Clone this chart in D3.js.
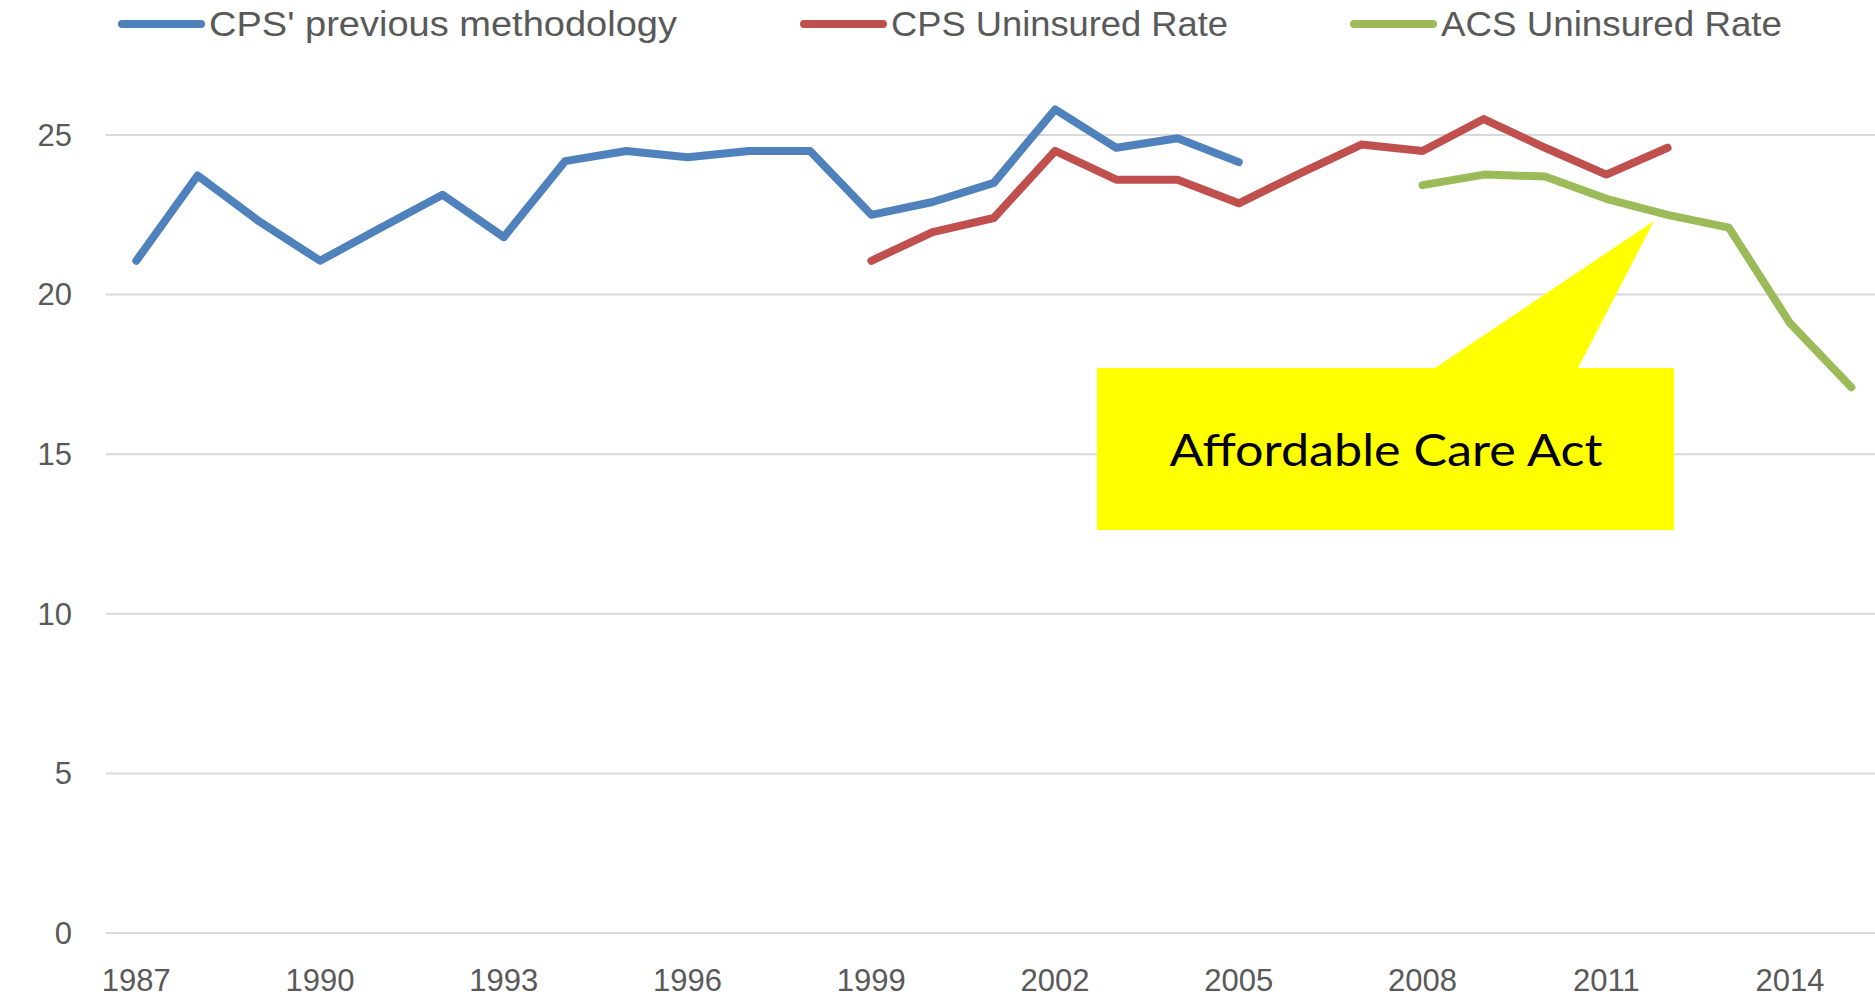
<!DOCTYPE html>
<html>
<head>
    <meta charset="UTF-8">
    <script src="https://d3js.org/d3.v7.min.js"></script>
    <style>
        body { margin: 0; background: #fff; }
        text { font-family: "Liberation Sans", Arial, sans-serif; }
    </style>
</head>
<body>
    <svg id="chart" width="1875" height="997"></svg>
    <script>
        // years on the category axis
        const years = d3.range(1987, 2016);
        const tickYears = [1987, 1990, 1993, 1996, 1999, 2002, 2005, 2008, 2011, 2014];
        const yTicks = [0, 5, 10, 15, 20, 25];

        // CPS' previous methodology, 1987-2005
        const cpsOldYears = d3.range(1987, 2006);
        const cpsOld = [21.06, 23.73, 22.3, 21.06, 22.1, 23.13, 21.8, 24.18, 24.5, 24.3,
                        24.5, 24.5, 22.5, 22.9, 23.5, 25.8, 24.6, 24.9, 24.15];

        // CPS uninsured rate, 1999-2012
        const cpsYears = d3.range(1999, 2013);
        const cps = [21.06, 21.96, 22.4, 24.5, 23.6, 23.6, 22.86, 23.8, 24.7, 24.5,
                     25.5, 24.6, 23.76, 24.6];

        // ACS uninsured rate, 2008-2015
        const acsYears = d3.range(2008, 2016);
        const acs = [23.43, 23.76, 23.7, 23.0, 22.5, 22.1, 19.1, 17.1];

        const seriesNames = ["CPS' previous methodology", "CPS Uninsured Rate", "ACS Uninsured Rate"];
        const colors = ["#4F81BD", "#C0504D", "#9BBB59"];

        const svg = d3.select("#chart");
        const left = 105.7, step = 61.25;

        const x = d3.scaleBand()
            .domain(years)
            .range([left, left + step * years.length]);

        const y = d3.scaleLinear()
            .domain([0, 25])
            .range([933, 135]);

        // gridlines
        svg.append("g")
            .selectAll("line")
            .data(yTicks)
            .enter().append("line")
            .attr("x1", left)
            .attr("x2", 1875)
            .attr("y1", d => y(d))
            .attr("y2", d => y(d))
            .attr("stroke", "#D9D9D9")
            .attr("stroke-width", 2);

        // y labels
        svg.append("g")
            .selectAll("text")
            .data(yTicks)
            .enter().append("text")
            .attr("x", 72)
            .attr("y", d => y(d))
            .attr("dy", "0.35em")
            .attr("text-anchor", "end")
            .attr("fill", "#595959")
            .style("font-size", "31px")
            .text(d => d);

        // x labels
        svg.append("g")
            .selectAll("text")
            .data(tickYears)
            .enter().append("text")
            .attr("x", d => x(d) + x.bandwidth() / 2)
            .attr("y", 980)
            .attr("dy", "0.35em")
            .attr("text-anchor", "middle")
            .attr("fill", "#595959")
            .style("font-size", "31px")
            .text(d => d);

        const line = d3.line()
            .x(d => x(d[0]) + x.bandwidth() / 2)
            .y(d => y(d[1]));

        const series = [
            d3.zip(cpsOldYears, cpsOld),
            d3.zip(cpsYears, cps),
            d3.zip(acsYears, acs)
        ];

        svg.append("g")
            .selectAll("path")
            .data(series)
            .enter().append("path")
            .attr("d", line)
            .attr("fill", "none")
            .attr("stroke", (d, i) => colors[i])
            .attr("stroke-width", 8)
            .attr("stroke-linejoin", "round")
            .attr("stroke-linecap", "round");

        // callout
        svg.append("path")
            .attr("d", "M1097,368 L1435,368 L1654,221 L1578,368 L1674,368 L1674,530 L1097,530 Z")
            .attr("fill", "#FFFF00");

        svg.append("text")
            .attr("x", 1386)
            .attr("y", 451)
            .attr("dy", "0.35em")
            .attr("text-anchor", "middle")
            .attr("fill", "#000")
            .style("font-family", "Lato, 'Open Sans', sans-serif")
            .style("font-size", "44px")
            .attr("textLength", 433)
            .attr("lengthAdjust", "spacingAndGlyphs")
            .text("Affordable Care Act");

        // legend
        const legendX = [122, 804, 1354];
        const legendW = [468, 337, 341];
        const lg = svg.append("g")
            .selectAll("g")
            .data(seriesNames)
            .enter().append("g")
            .attr("transform", (d, i) => `translate(${legendX[i]},24)`);

        lg.append("line")
            .attr("x1", 0).attr("x2", 79)
            .attr("stroke", (d, i) => colors[i])
            .attr("stroke-width", 8)
            .attr("stroke-linecap", "round");

        lg.append("text")
            .attr("x", 87)
            .attr("dy", "0.35em")
            .attr("fill", "#595959")
            .style("font-size", "35px")
            .attr("textLength", (d, i) => legendW[i])
            .attr("lengthAdjust", "spacingAndGlyphs")
            .text(d => d);
    </script>
</body>
</html>
